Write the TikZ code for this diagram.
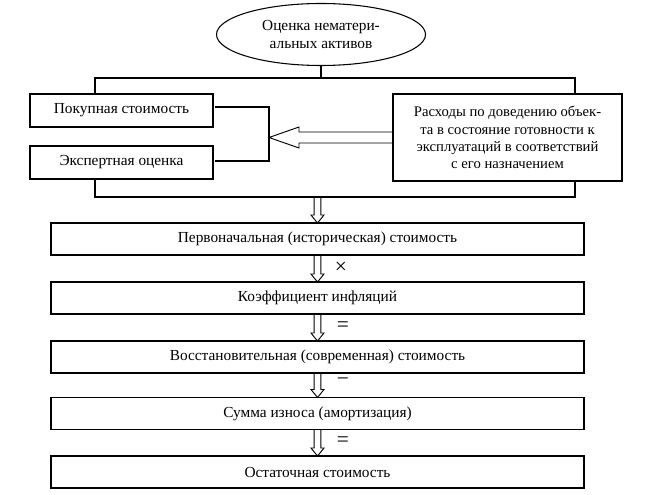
\documentclass[tikz,border=0pt]{standalone}
\usepackage{fontspec}
\setmainfont{Liberation Serif}
\usepackage{tkz-graph}
\usetikzlibrary{arrows,calc,shapes.geometric}

\begin{document}
\begin{tikzpicture}[x = 0.75pt, y = -0.75pt, line width = 0.8pt]
\tikzstyle{VertexStyle}=[shape = ellipse,
                         minimum width = 156.75pt,
                         minimum height = 46.5pt,
                         inner sep = 0pt,
                         align = center,
                         font = \fontsize{11.5}{13.5}\selectfont,
                         draw]
\tikzstyle{hollowdown}=[line width = 0.7pt,
   to path = {($(\tikztostart) + (-3.3, 0)$) -- ($(\tikztotarget) + (-3.3, -8)$)
              -- ($(\tikztotarget) + (-6.5, -8)$) -- (\tikztotarget)
              -- ($(\tikztotarget) + (6.5, -8)$) -- ($(\tikztotarget) + (3.3, -8)$)
              -- ($(\tikztostart) + (3.3, 0)$)}]
\tikzstyle{hollowleft}=[line width = 0.7pt,
   to path = {($(\tikztostart) + (0, -5.5)$) -- ($(\tikztotarget) + (30, -5.5)$)
              -- ($(\tikztotarget) + (30, -10.5)$) -- (\tikztotarget)
              -- ($(\tikztotarget) + (30, 10.5)$) -- ($(\tikztotarget) + (30, 5.5)$)
              -- ($(\tikztostart) + (0, 5.5)$)}]
\tikzstyle{sign}=[font = \fontsize{16}{16}\selectfont, inner sep = 0pt]

\useasboundingbox (0, 0) rectangle (645, 495);

\Vertex[x = 321, y = 34.5, L = {Оценка нематери-\\альных активов}]{est}

\tikzstyle{VertexStyle}=[shape = rectangle,
                         minimum width = 137.25pt,
                         minimum height = 24.75pt,
                         inner sep = 0pt,
                         font = \fontsize{11.5}{13}\selectfont,
                         draw]

\Vertex[x = 121.5, y = 110.5, L = Покупная стоимость]{buy}
\Vertex[x = 121.5, y = 162.5, L = Экспертная оценка]{expert}

\tikzstyle{VertexStyle}=[shape = rectangle,
                         minimum width = 171.75pt,
                         minimum height = 65.25pt,
                         inner sep = 0pt,
                         align = center,
                         font = \fontsize{11}{13}\selectfont,
                         draw]

\Vertex[x = 507.5, y = 137.5,
        L = {Расходы по доведению объек-\\та в состояние готовности к\\эксплуатаций в соответствий\\с его назначением}]{costs}

\tikzstyle{VertexStyle}=[shape = rectangle,
                         minimum width = 399.75pt,
                         minimum height = 24pt,
                         inner sep = 0pt,
                         font = \fontsize{11.5}{13}\selectfont,
                         draw]

\Vertex[x = 317.5, y = 239, L = Первоначальная (историческая) стоимость]{initial}
\Vertex[x = 317.5, y = 298, L = Коэффициент инфляций]{infl}
\Vertex[x = 317.5, y = 357, L = Восстановительная (современная) стоимость]{restored}
\Vertex[x = 317.5, y = 413.5, L = Сумма износа (амортизация)]{wear}
\Vertex[x = 317.5, y = 472, L = Остаточная стоимость]{residual}

% branching under the ellipse
\coordinate (fork) at (321, 78);
\coordinate (forkL) at (95, 78);
\coordinate (forkR) at (575, 78);
\draw (est) -- (fork);
\draw (forkL |- buy.north) -- (forkL) -- (forkR) -- (forkR |- costs.north);

% bracket and the arrow into it
\coordinate (bracket) at (269, 137.5);
\draw ($(buy.east) + (2, -3.5)$) -| (bracket) |- ($(expert.east) + (2, -1.5)$);
\draw[hollowleft] (costs.west) to (bracket);

% joining line above the chain
\coordinate (joinL) at (95, 197);
\coordinate (joinR) at (575, 197);
\coordinate (join) at (317.5, 197);
\draw (joinL |- expert.south) -- (joinL) -- (joinR) -- (joinR |- costs.south);

\draw[hollowdown] (join) to (initial.north);
\draw[hollowdown] (initial.south) to (infl.north);
\draw[hollowdown] (infl.south) to (restored.north);
\draw[hollowdown] (restored.south) to (wear.north);
\draw[hollowdown] (wear.south) to (residual.north);

\node[sign] (times) at (341, 268) {×};
\node[sign] (eq1) at (343, 327) {=};
\node[sign] (minus) at (343, 382) {−};
\node[sign] (eq2) at (343, 442) {=};
\end{tikzpicture}
\end{document}
